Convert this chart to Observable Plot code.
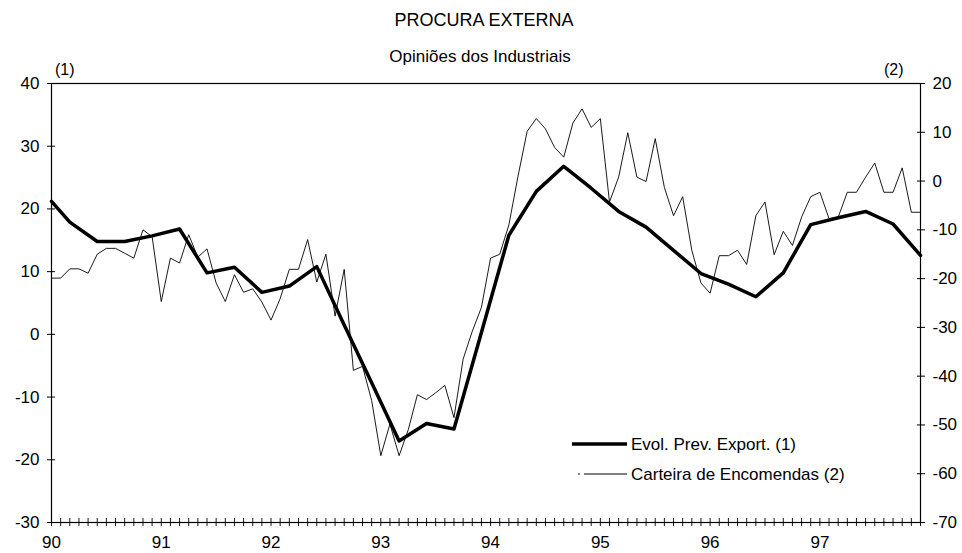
<!DOCTYPE html>
<html>
<head>
<meta charset="utf-8">
<script src="https://cdn.jsdelivr.net/npm/d3@7"></script>
<script src="https://cdn.jsdelivr.net/npm/@observablehq/plot@0.6"></script>
<style>
  body { margin: 0; background: #fff; font-family: "Liberation Sans", Arial, sans-serif; }
  #wrap { position: relative; width: 962px; height: 553px; overflow: hidden; background: #fff; }
  #chart { position: absolute; left: 0; top: 0; }
  .t { position: absolute; color: #000; white-space: nowrap; line-height: 1; }
  .c { transform: translateX(-50%); }
</style>
</head>
<body>
<div id="wrap">
  <div id="chart"></div>
  <div class="t c" style="left:484px; top:11px; font-size:18px;">PROCURA EXTERNA</div>
  <div class="t c" style="left:480px; top:48px; font-size:17px;">Opiniões dos Industriais</div>
  <div class="t" style="left:55px; top:62px; font-size:16px;">(1)</div>
  <div class="t" style="left:884px; top:62px; font-size:16px;">(2)</div>
  <svg class="t" style="left:0; top:0;" width="962" height="553">
    <line x1="572" x2="627" y1="444" y2="444" stroke="#000" stroke-width="3.5"></line>
    <line x1="578" x2="580" y1="474" y2="474" stroke="#000" stroke-width="1"></line>
    <line x1="584" x2="627" y1="474" y2="474" stroke="#000" stroke-width="1"></line>
  </svg>
  <div class="t" style="left:631px; top:436px; font-size:17px;">Evol. Prev. Export. (1)</div>
  <div class="t" style="left:631px; top:466px; font-size:17px;">Carteira de Encomendas (2)</div>
</div>
<script>
// Month index: 0 = Jan 1990 ... 95 = Dec 1997
const evolMonths = [0, 2, 5, 8, 11, 14, 17, 20, 23, 26, 29, 32, 35, 38, 41, 44, 47,
  50, 53, 56, 59, 62, 65, 68, 71, 74, 77, 80, 83, 86, 89, 92, 95];
const evolValues = [21.2, 17.9, 14.8, 14.8, 15.7, 16.8, 9.8, 10.7, 6.7, 7.7, 10.8, 1.5, -7.7, -17.0, -14.2, -15.1, 0.3,
  15.8, 22.8, 26.8, 23.3, 19.6, 17.1, 13.4, 9.7, 8.0, 6.0, 9.8, 17.5, 18.6, 19.6, 17.6, 12.6];

// Carteira de Encomendas, monthly from Jan 1990 (right axis)
const carteiraValues = [
  -19.9, -19.9, -18.0, -18.0, -18.9, -15.0, -13.8, -13.8, -14.8, -15.8, -10.0, -11.4,
  -24.7, -15.8, -16.8, -11.0, -15.6, -13.9, -20.9, -24.7, -19.2, -22.8, -22.1, -24.8,
  -28.5, -24.1, -18.1, -18.1, -12.0, -20.7, -15.0, -27.7, -18.1, -38.8, -38.0, -45.0,
  -56.3, -49.8, -56.3, -51.0, -43.8, -44.8, -43.4, -41.9, -48.5, -36.5, -30.8, -25.9,
  -15.8, -15.0, -9.0, 1.0, 10.2, 12.8, 10.7, 6.9, 4.9, 11.9, 14.8, 11.0,
  12.8, -4.3, 0.8, 9.9, 0.8, -0.1, 8.7, -1.3, -7.1, -3.2, -14.2, -20.9,
  -23.0, -15.3, -15.3, -14.2, -17.1, -7.1, -4.3, -15.1, -10.3, -13.2, -7.4, -3.2,
  -2.3, -7.7, -7.4, -2.3, -2.3, 0.8, 3.7, -2.3, -2.3, 2.7, -6.4, -6.4
];

const yearLabels = ["90", "91", "92", "93", "94", "95", "96", "97"];
const leftTicks = [-30, -20, -10, 0, 10, 20, 30, 40];
const rightTicks = [-70, -60, -50, -40, -30, -20, -10, 0, 10, 20];

const leftDomain = [-30, 40];
const rightDomain = [-70, 20];
const toLeft = v => leftDomain[0] + (v - rightDomain[0]) * (leftDomain[1] - leftDomain[0]) / (rightDomain[1] - rightDomain[0]);
const toRight = v => rightDomain[0] + (v - leftDomain[0]) * (rightDomain[1] - rightDomain[0]) / (leftDomain[1] - leftDomain[0]);

const evol = evolMonths.map((m, i) => ({m, v: evolValues[i]}));
const carteira = carteiraValues.map((v, m) => ({m, v: toLeft(v)}));
const monthTicks = d3.range(0, 96);
const yearTicks = d3.range(0, 96, 12);

const chart = Plot.plot({
  width: 962,
  height: 553,
  marginLeft: 51,
  marginRight: 42,
  marginTop: 83,
  marginBottom: 31,
  x: {domain: [0, 95]},
  y: {domain: leftDomain},
  style: {fontFamily: "'Liberation Sans', Arial, sans-serif", fontSize: "17px", color: "#000", background: "#fff", overflow: "visible"},
  marks: [
    Plot.frame({stroke: "#000", strokeWidth: 1.2}),
    // left axis
    Plot.axisY(leftTicks, {anchor: "left", tickSize: 8, dx: 4, fill: "none", stroke: "#000", label: null}),
    Plot.axisY(leftTicks, {anchor: "left", tickSize: 0, tickPadding: 12, fill: "#000", label: null, tickFormat: d => String(d)}),
    // right axis
    Plot.axisY(rightTicks.map(toLeft), {anchor: "right", tickSize: 8, dx: -4, fill: "none", stroke: "#000", label: null}),
    Plot.axisY(rightTicks.map(toLeft), {anchor: "right", tickSize: 0, tickPadding: 12, fill: "#000", label: null, tickFormat: d => String(Math.round(toRight(d)))}),
    // bottom axis
    Plot.axisX(monthTicks, {anchor: "bottom", tickSize: 8, dy: -4, fill: "none", stroke: "#000", strokeWidth: 0.9, label: null}),
    Plot.axisX(yearTicks, {anchor: "bottom", tickSize: 0, tickPadding: 13, fill: "#000", label: null, tickFormat: d => yearLabels[d / 12]}),
    // series
    Plot.line(carteira, {x: "m", y: "v", stroke: "#000", strokeWidth: 0.9, strokeLinejoin: "miter"}),
    Plot.line(evol, {x: "m", y: "v", stroke: "#000", strokeWidth: 3.5})
  ]
});
document.getElementById("chart").appendChild(chart);
</script>
</body>
</html>
